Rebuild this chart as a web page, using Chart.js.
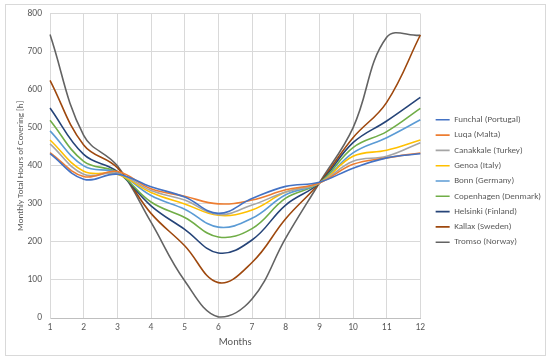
<!DOCTYPE html>
<html>
<head>
<meta charset="utf-8">
<script src="https://cdn.jsdelivr.net/npm/chart.js@4.4.1/dist/chart.umd.min.js"></script>
<style>
  html, body { margin: 0; padding: 0; background: #fff; }
  #wrap { position: relative; width: 550px; height: 361px; }
  #frame { position: absolute; left: 5px; top: 4px; width: 539px; height: 350px; border: 1px solid #d9d9d9; }
  canvas { position: absolute; left: 0; top: 0; }
</style>
</head>
<body>
<div id="wrap">
  <div id="frame"></div>
  <canvas id="chart" width="550" height="361"></canvas>
</div>
<script>
// months on the x axis
const months = ['1', '2', '3', '4', '5', '6', '7', '8', '9', '10', '11', '12'];
const yTicks = [0, 100, 200, 300, 400, 500, 600, 700, 800];

// monthly total hours of covering [h]
const funchal    = [432, 365, 378, 345, 318, 275, 314, 346, 357, 394, 421, 432];
const luqa       = [435, 372, 385, 340, 320, 300, 310, 337, 355, 404, 421, 434];
const canakkale  = [458, 378, 380, 335, 310, 272, 297, 331, 355, 412, 425, 461];
const genoa      = [468, 386, 378, 330, 300, 270, 284, 331, 355, 425, 441, 468];
const bonn       = [492, 400, 382, 322, 286, 239, 262, 324, 355, 434, 474, 521];
const copenhagen = [520, 412, 383, 305, 264, 213, 235, 315, 355, 448, 490, 551];
const helsinki   = [552, 430, 385, 295, 233, 171, 205, 297, 355, 461, 518, 580];
const kallax     = [625, 455, 395, 275, 190, 93, 146, 261, 355, 474, 567, 744];
const tromso     = [745, 480, 400, 252, 98, 3, 50, 210, 355, 500, 738, 743];

const seriesNames = ['Funchal (Portugal)', 'Luqa (Malta)', 'Canakkale (Turkey)', 'Genoa (Italy)',
  'Bonn (Germany)', 'Copenhagen (Denmark)', 'Helsinki (Finland)', 'Kallax (Sweden)', 'Tromso (Norway)'];
const seriesData = [funchal, luqa, canakkale, genoa, bonn, copenhagen, helsinki, kallax, tromso];
const colors = ['#4472C4', '#ED7D31', '#A5A5A5', '#FFC000', '#5B9BD5', '#70AD47', '#264478', '#9E480E', '#636363'];

const FONT = 'Carlito, Calibri, Lato, sans-serif';
const TEXT = '#595959';

const datasets = seriesNames.map((name, i) => ({
  label: name,
  data: seriesData[i],
  borderColor: colors[i],
  backgroundColor: colors[i],
  borderWidth: 1.6,
  pointRadius: 0,
  pointStyle: 'line',
  tension: 0.4,
  fill: false
}));

// nudge the legend a bit right and down, the way excel leaves a gap after the plot
const legendShift = {
  id: 'legendShift',
  afterLayout(chart) {
    const l = chart.legend;
    l.left += 9;
    l.right += 9;
    l.top += 3;
    l.bottom += 3;
  }
};

new Chart(document.getElementById('chart'), {
  type: 'line',
  data: { labels: months, datasets: datasets },
  plugins: [legendShift],
  options: {
    responsive: false,
    animation: false,
    layout: { padding: { left: 0, right: 8, top: 8, bottom: 13 } },
    plugins: {
      tooltip: { enabled: false },
      legend: {
        position: 'right',
        labels: {
          usePointStyle: true,
          pointStyleWidth: 14,
          boxHeight: 9,
          padding: 6.3,
          color: TEXT,
          font: { family: FONT, size: 9 }
        }
      }
    },
    scales: {
      x: {
        offset: false,
        grid: { color: '#d9d9d9', drawTicks: false },
        border: { color: '#bfbfbf' },
        ticks: { color: TEXT, font: { family: FONT, size: 9.5, lineHeight: 1 }, padding: 5, maxRotation: 0 },
        title: { display: true, text: 'Months', color: TEXT, font: { family: FONT, size: 10.5, lineHeight: 1 }, padding: { top: 0, bottom: 0 } }
      },
      y: {
        min: 0,
        max: 800,
        afterBuildTicks: axis => { axis.ticks = yTicks.map(v => ({ value: v })); },
        afterFit: axis => { axis.width = 50; },
        grid: { color: '#d9d9d9', drawTicks: false },
        border: { color: '#d9d9d9' },
        ticks: { color: TEXT, font: { family: FONT, size: 9.5 }, padding: 8 },
        title: { display: true, text: 'Monthly Total Hours of Covering [h]', color: TEXT, font: { family: FONT, size: 9 }, padding: { top: 15, bottom: 0 } }
      }
    }
  }
});
</script>
</body>
</html>
